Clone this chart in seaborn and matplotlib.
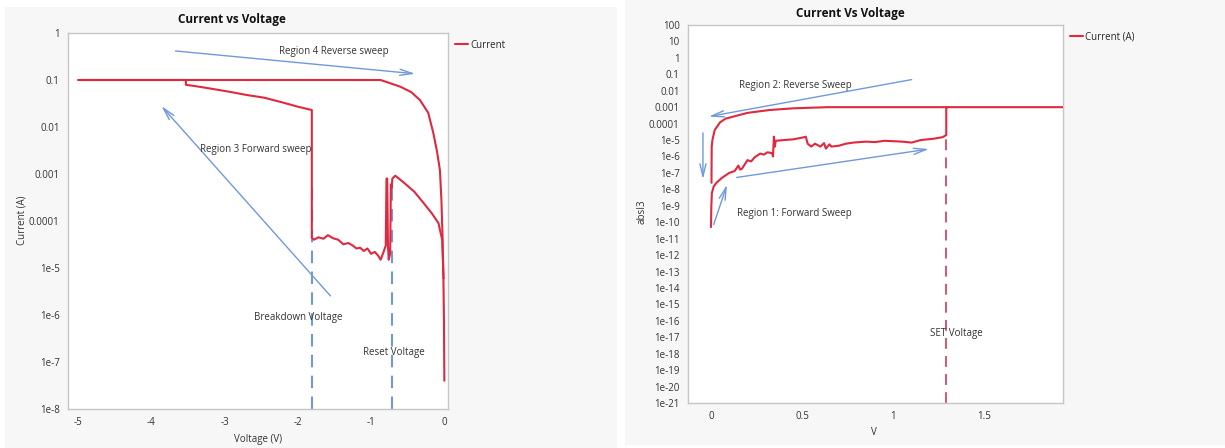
import numpy as np
import pandas as pd
import seaborn as sns
import matplotlib.pyplot as plt
import matplotlib
from matplotlib.patches import Rectangle
from matplotlib.ticker import FixedLocator, MultipleLocator, NullLocator

sns.set_style('white')
matplotlib.rcParams['font.family'] = ['Open Sans', 'DejaVu Sans']

# ---- left chart: reset sweep (negative voltage)
left_upper_v = [-5.0, -0.87, -0.6, -0.45, -0.33, -0.22, -0.15, -0.1, -0.06, -0.04,
                -0.025, -0.012, -0.005, 0.0]
left_upper_i = [0.1, 0.1, 0.072, 0.055, 0.037, 0.02, 0.0074, 0.003, 0.0012, 2.8e-4,
                5e-5, 5e-6, 8e-7, 4e-8]
left_lower_v = [-0.01, -0.03, -0.08, -0.17, -0.3, -0.41, -0.55, -0.67, -0.71, -0.72,
                -0.73, -0.74, -0.76, -0.77, -0.78, -0.79, -0.80, -0.83, -0.87, -0.9,
                -0.95, -1.0, -1.05, -1.1, -1.15, -1.2, -1.25, -1.31, -1.38, -1.45,
                -1.52, -1.59, -1.65, -1.72, -1.78, -1.81, -1.81, -2.0, -2.2, -2.46,
                -2.7, -2.93, -3.2, -3.4, -3.53, -3.53, -5.0]
left_lower_i = [6e-6, 4e-5, 9e-5, 1.45e-4, 2.6e-4, 4.2e-4, 6.5e-4, 9.2e-4, 8e-4, 5e-4,
                6e-4, 2e-5, 1.5e-5, 3e-5, 8e-4, 8e-4, 3e-5, 2.2e-5, 1.5e-5, 1.8e-5,
                2.2e-5, 2.0e-5, 2.6e-5, 2.3e-5, 2.7e-5, 2.6e-5, 3.0e-5, 3.4e-5, 3.2e-5, 4.0e-5,
                4.3e-5, 5e-5, 4.2e-5, 4.5e-5, 4.0e-5, 4.4e-5, 0.023, 0.027, 0.033, 0.042,
                0.048, 0.056, 0.066, 0.074, 0.079, 0.1, 0.1]
breakdown_v = -1.81
reset_v = -0.72
left_yticks = [1, 0.1, 0.01, 0.001, 0.0001, 1e-5, 1e-6, 1e-7, 1e-8]
left_ylabels = ['1', '0.1', '0.01', '0.001', '0.0001', '1e-5', '1e-6', '1e-7', '1e-8']
left_xticks = [-5, -4, -3, -2, -1, 0]

# ---- right chart: set sweep (positive voltage)
right_fwd_v = [0.0, 0.002, 0.005, 0.015, 0.03, 0.06, 0.1, 0.13, 0.15, 0.16, 0.17, 0.19,
               0.2, 0.22, 0.24, 0.27, 0.29, 0.31, 0.335, 0.34, 0.345, 0.35, 0.355, 0.4,
               0.45, 0.5, 0.52, 0.53, 0.55, 0.57, 0.6, 0.62, 0.63, 0.65, 0.66, 0.7,
               0.74, 0.78, 0.85, 0.9, 0.95, 1.05, 1.1, 1.15, 1.22, 1.27, 1.29, 1.29, 2.0]
right_fwd_i = [5e-11, 1e-9, 6e-9, 1.5e-8, 2.5e-8, 5e-8, 1e-7, 1.3e-7, 2.8e-7, 1.6e-7, 1.8e-7, 4e-7,
               6e-7, 5e-7, 9e-7, 1.5e-6, 1.3e-6, 1.8e-6, 1.6e-6, 1e-6, 1.6e-5, 4e-6, 9e-6, 1e-5,
               1.1e-5, 1.4e-5, 1.6e-5, 6e-6, 4e-6, 6e-6, 4e-6, 6.5e-6, 3e-6, 5.5e-6, 4e-6, 4.5e-6,
               6e-6, 7e-6, 8e-6, 7.5e-6, 9e-6, 8e-6, 7e-6, 1e-5, 1.2e-5, 1.5e-5, 2e-5, 1e-3, 1e-3]
right_rev_v = [1.3, 0.64, 0.45, 0.32, 0.2, 0.14, 0.08, 0.05, 0.02, 0.008, 0.004, 0.003, 0.003]
right_rev_i = [1e-3, 1e-3, 8.5e-4, 6.7e-4, 4.5e-4, 3e-4, 2e-4, 1.2e-4, 4e-5, 1e-5, 4e-6, 1e-7, 2.5e-8]
set_v = 1.29
right_yticks = [10.0 ** k for k in range(2, -22, -1)]
right_ylabels = ['100', '10', '1', '0.1', '0.01', '0.001', '0.0001'] + ['1e-%d' % k for k in range(5, 22)]
right_xticks = [0, 0.5, 1, 1.5]
right_xlabels = ['0', '0.5', '1', '1.5']

red = '#e0283f'
blue = '#6f99dc'
gray_bg = '#f7f7f7'
spine_c = '#c6c6c6'

fig = plt.figure(figsize=(12.25, 4.48), dpi=100)
W, H = 1225, 448
fig.patches.append(Rectangle((5 / W, 0), 612 / W, 441 / H, transform=fig.transFigure,
                             facecolor=gray_bg, edgecolor='none', zorder=-10))
fig.patches.append(Rectangle((625 / W, 3 / H), 600 / W, 445 / H, transform=fig.transFigure,
                             facecolor=gray_bg, edgecolor='none', zorder=-10))

ax1 = fig.add_axes([68 / W, 1 - 409 / H, 380 / W, 376 / H])
ax2 = fig.add_axes([688 / W, 1 - 403 / H, 375 / W, 378 / H])


def style_axis(ax):
    ax.set_facecolor('white')
    for s in ax.spines.values():
        s.set_color(spine_c)
        s.set_linewidth(1)
    ax.tick_params(axis='both', which='both', direction='out', color='#9a9a9a',
                   labelsize=7, labelcolor='#333333', pad=2)
    ax.tick_params(axis='both', which='major', length=4)
    ax.tick_params(axis='x', which='minor', length=2.5)


# left
df_up = pd.DataFrame({'v': left_upper_v, 'i': left_upper_i})
df_lo = pd.DataFrame({'v': left_lower_v, 'i': left_lower_i})
ax1.vlines([breakdown_v, reset_v], 1e-8, 5e-4, colors=blue, linestyles=(0, (6, 4)), lw=1.5, zorder=1)
sns.lineplot(data=df_up, x='v', y='i', sort=False, estimator=None, color=red, lw=1.5, ax=ax1,
             label='Current', zorder=3)
sns.lineplot(data=df_lo, x='v', y='i', sort=False, estimator=None, color=red, lw=1.5, ax=ax1,
             zorder=3)
ax1.set_yscale('log')
ax1.set_ylim(1e-8, 1)
ax1.set_xlim(-5.14, 0.05)
ax1.yaxis.set_major_locator(FixedLocator(left_yticks))
ax1.set_yticklabels(left_ylabels)
ax1.yaxis.set_minor_locator(NullLocator())
ax1.set_xticks(left_xticks)
ax1.set_xticklabels([str(t) for t in left_xticks])
ax1.xaxis.set_minor_locator(MultipleLocator(0.2))
ax1.set_xlabel('')
ax1.set_ylabel('')
style_axis(ax1)

aprops = dict(arrowstyle='->,head_length=0.9,head_width=0.22', color=blue, lw=1)
ax1.annotate('', xy=(-0.36, 0.134), xytext=(-3.71, 0.42), arrowprops=aprops)
ax1.annotate('', xy=(-3.89, 0.031), xytext=(-1.53, 2.3e-6), arrowprops=aprops)
tkw = dict(fontsize=7, color='#333333', ha='center', va='center')
ax1.text(-1.51, 0.4, 'Region 4 Reverse sweep', **tkw)
ax1.text(-2.58, 0.0034, 'Region 3 Forward sweep', **tkw)
ax1.text(-1.99, 8.7e-7, 'Breakdown Voltage', **tkw)
ax1.text(-0.69, 1.6e-7, 'Reset Voltage', **tkw)
ax1.legend(loc='upper left', bbox_to_anchor=(1.0, 1.0), frameon=False, fontsize=7,
           handlelength=1.4, handletextpad=0.2, borderaxespad=0.3)

# right
df_fwd = pd.DataFrame({'v': right_fwd_v, 'i': right_fwd_i})
df_rev = pd.DataFrame({'v': right_rev_v, 'i': right_rev_i})
ax2.vlines([set_v], 1e-21, 2e-5, colors='#d8485e', linestyles=(0, (6, 4)), lw=1.3, zorder=1)
sns.lineplot(data=df_fwd, x='v', y='i', sort=False, estimator=None, color=red, lw=1.5, ax=ax2,
             label='Current (A)', zorder=3)
sns.lineplot(data=df_rev, x='v', y='i', sort=False, estimator=None, color=red, lw=1.5, ax=ax2,
             zorder=3)
ax2.set_yscale('log')
ax2.set_ylim(1e-21, 100)
ax2.set_xlim(-0.126, 1.93)
ax2.yaxis.set_major_locator(FixedLocator(right_yticks))
ax2.set_yticklabels(right_ylabels)
ax2.yaxis.set_minor_locator(NullLocator())
ax2.set_xticks(right_xticks)
ax2.set_xticklabels(right_xlabels)
ax2.xaxis.set_minor_locator(MultipleLocator(0.1))
ax2.set_xlabel('')
ax2.set_ylabel('')
style_axis(ax2)

ax2.annotate('', xy=(-0.027, 2.5e-4), xytext=(1.115, 0.051), arrowprops=aprops)
ax2.annotate('', xy=(-0.044, 2.8e-8), xytext=(-0.044, 4e-5), arrowprops=aprops)
ax2.annotate('', xy=(0.093, 2.8e-8), xytext=(0.01, 5e-11), arrowprops=aprops)
ax2.annotate('', xy=(1.21, 3e-6), xytext=(0.126, 5e-8), arrowprops=aprops)
lkw = dict(fontsize=7, color='#333333', ha='left', va='center')
ax2.text(0.155, 0.022, 'Region 2: Reverse Sweep', **lkw)
ax2.text(0.143, 10 ** -9.44, 'Region 1: Forward Sweep', **lkw)
ax2.text(1.2, 10 ** -16.75, 'SET Voltage', **lkw)
ax2.legend(loc='upper left', bbox_to_anchor=(1.0, 1.0), frameon=False, fontsize=7,
           handlelength=1.4, handletextpad=0.2, borderaxespad=0.3)

# titles and axis labels
fig.text(232 / W, 1 - 19 / H, 'Current vs Voltage', fontsize=8.5, fontweight='bold',
         ha='center', va='center', color='#111111')
fig.text(850 / W, 1 - 13 / H, 'Current Vs Voltage', fontsize=8.5, fontweight='bold',
         ha='center', va='center', color='#111111')
fig.text(258 / W, 1 - 439 / H, 'Voltage (V)', fontsize=7, ha='center', va='center', color='#333333')
fig.text(874 / W, 1 - 432 / H, 'V', fontsize=7, ha='center', va='center', color='#333333')
fig.text(22 / W, 1 - 220 / H, 'Current (A)', fontsize=7, rotation=90, ha='center', va='center',
         color='#333333')
fig.text(642 / W, 1 - 212 / H, 'absI3', fontsize=7, rotation=90, ha='center', va='center',
         color='#333333')

fig.savefig('out.png', dpi=100)
